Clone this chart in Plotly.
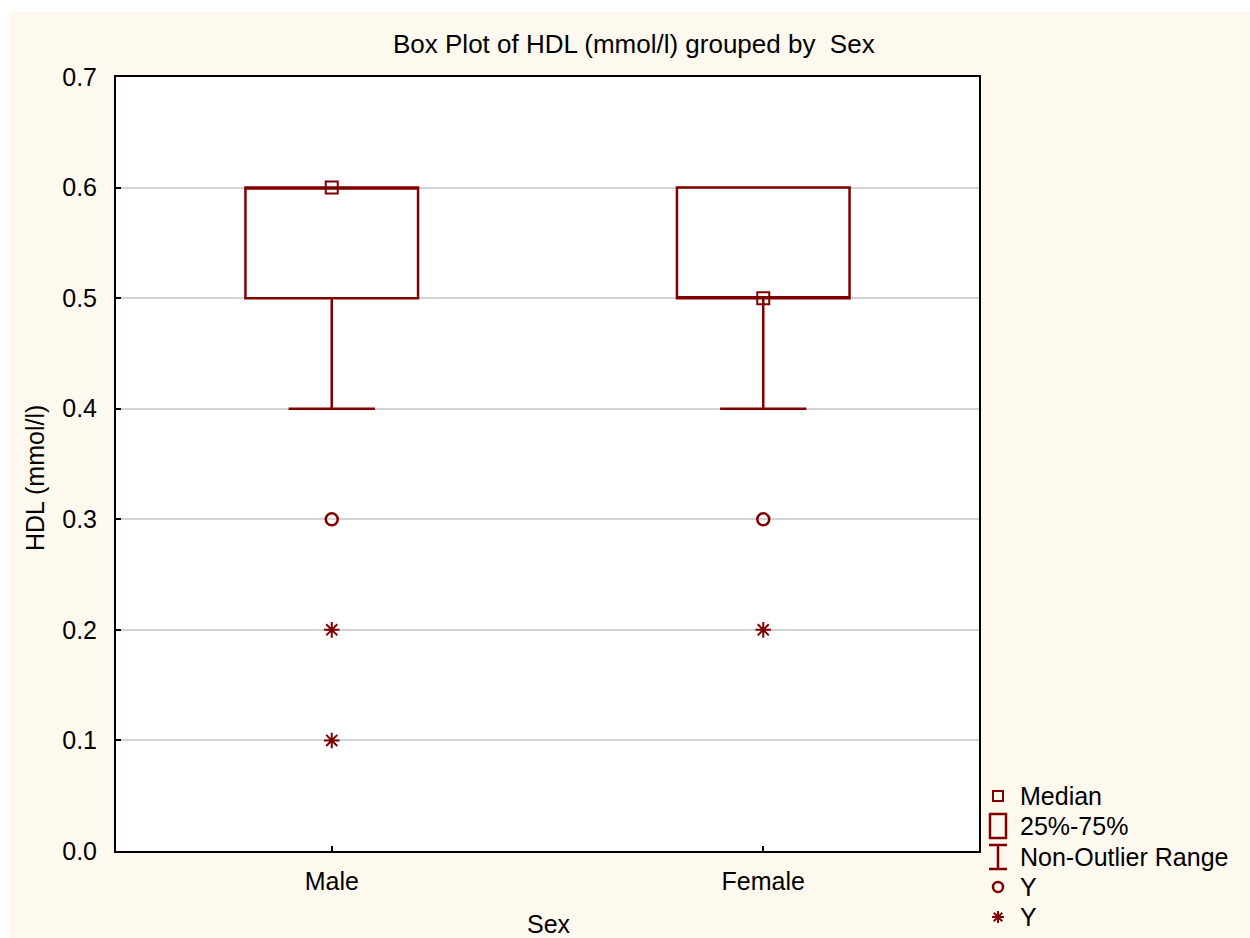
import plotly.graph_objects as go

# Summary statistics of HDL (mmol/l) by sex
categories = ["Male", "Female"]
medians = [0.6, 0.5]
q1 = [0.5, 0.5]
q3 = [0.6, 0.6]
whisker_low = [0.4, 0.4]
whisker_high = [0.6, 0.6]

# Outliers (circles) and extremes (asterisks)
outlier_x = ["Male", "Female"]
outlier_y = [0.3, 0.3]
extreme_x = ["Male", "Male", "Female"]
extreme_y = [0.2, 0.1, 0.2]

y_ticks = [0.0, 0.1, 0.2, 0.3, 0.4, 0.5, 0.6, 0.7]
legend_labels = ["Median", "25%-75%", "Non-Outlier Range", "Y", "Y"]

MAROON = "#800000"
CREAM = "#FEF9EE"
FONT = "Liberation Sans, Arial, sans-serif"
FS = 25

W, H = 1250, 938
ML, MR, MT, MB = 116, 271, 77, 87
PW, PH = W - ML - MR, H - MT - MB


def px_x(px):
    return (px - ML) / PW


def px_y(py):
    return (H - MB - py) / PH


fig = go.Figure()

fig.add_trace(go.Box(
    x=categories, q1=q1, median=medians, q3=q3,
    lowerfence=whisker_low, upperfence=whisker_high,
    width=0.4, whiskerwidth=0.5, boxpoints=False,
    line=dict(color=MAROON, width=2.5), fillcolor="rgba(0,0,0,0)",
    showlegend=False,
))

fig.add_trace(go.Scatter(
    x=categories, y=medians, mode="markers", showlegend=False,
    marker=dict(symbol="square-open", size=12, color=MAROON,
                line=dict(color=MAROON, width=2)),
))

fig.add_trace(go.Scatter(
    x=outlier_x, y=outlier_y, mode="markers", showlegend=False,
    marker=dict(symbol="circle-open", size=12, color=MAROON,
                line=dict(color=MAROON, width=2.5)),
))

fig.add_trace(go.Scatter(
    x=extreme_x, y=extreme_y, mode="markers", showlegend=False,
    marker=dict(symbol="asterisk-open", size=13, color=MAROON,
                line=dict(color=MAROON, width=2)),
))

shapes = []
# white strips along the top and left edges of the page
shapes.append(dict(type="rect", xref="paper", yref="paper", layer="above",
                   x0=px_x(0), x1=px_x(W), y0=px_y(0), y1=px_y(12),
                   fillcolor="white", line=dict(width=0)))
shapes.append(dict(type="rect", xref="paper", yref="paper", layer="above",
                   x0=px_x(0), x1=px_x(10), y0=px_y(0), y1=px_y(H),
                   fillcolor="white", line=dict(width=0)))

# custom legend symbols
rows = [796, 826, 857, 887, 917]
cx = 998
ln = dict(color=MAROON, width=2.5)
# median
shapes.append(dict(type="rect", xref="paper", yref="paper",
                   x0=px_x(cx - 5), x1=px_x(cx + 5),
                   y0=px_y(rows[0] + 5), y1=px_y(rows[0] - 5), line=dict(color=MAROON, width=2)))
# 25%-75%
shapes.append(dict(type="rect", xref="paper", yref="paper",
                   x0=px_x(cx - 8), x1=px_x(cx + 8),
                   y0=px_y(rows[1] + 12), y1=px_y(rows[1] - 12), line=ln))
# non-outlier range
r = rows[2]
shapes.append(dict(type="path", xref="paper", yref="paper", line=ln,
                   path=(f"M{px_x(cx - 9)},{px_y(r - 12)} L{px_x(cx + 9)},{px_y(r - 12)} "
                         f"M{px_x(cx)},{px_y(r - 12)} L{px_x(cx)},{px_y(r + 12)} "
                         f"M{px_x(cx - 9)},{px_y(r + 12)} L{px_x(cx + 9)},{px_y(r + 12)}")))
# outlier circle
shapes.append(dict(type="circle", xref="paper", yref="paper", line=ln,
                   x0=px_x(cx - 5), x1=px_x(cx + 5),
                   y0=px_y(rows[3] + 5), y1=px_y(rows[3] - 5)))
# extreme asterisk
r = rows[4]
a = 6
d = 4.3
shapes.append(dict(type="path", xref="paper", yref="paper", line=dict(color=MAROON, width=2),
                   path=(f"M{px_x(cx)},{px_y(r - a)} L{px_x(cx)},{px_y(r + a)} "
                         f"M{px_x(cx - a)},{px_y(r)} L{px_x(cx + a)},{px_y(r)} "
                         f"M{px_x(cx - d)},{px_y(r - d)} L{px_x(cx + d)},{px_y(r + d)} "
                         f"M{px_x(cx - d)},{px_y(r + d)} L{px_x(cx + d)},{px_y(r - d)}")))

annotations = []
for lbl, ry in zip(legend_labels, rows):
    annotations.append(dict(text=lbl, xref="paper", yref="paper",
                            x=px_x(1018), y=px_y(ry), xanchor="left", yanchor="middle",
                            showarrow=False, font=dict(size=FS, color="black", family=FONT)))

annotations.append(dict(text="Box Plot of HDL (mmol/l) grouped by  Sex", xref="paper", yref="paper",
                        x=px_x(634), y=px_y(44), xanchor="center", yanchor="middle",
                        showarrow=False, font=dict(size=26, color="black", family=FONT)))
annotations.append(dict(text="Sex", xref="paper", yref="paper",
                        x=px_x(549), y=px_y(924), xanchor="center", yanchor="middle",
                        showarrow=False, font=dict(size=FS, color="black", family=FONT)))
annotations.append(dict(text="HDL (mmol/l)", xref="paper", yref="paper", textangle=-90,
                        x=px_x(35), y=px_y(478), xanchor="center", yanchor="middle",
                        showarrow=False, font=dict(size=FS, color="black", family=FONT)))

fig.update_layout(
    width=W, height=H,
    margin=dict(l=ML, r=MR, t=MT, b=MB, pad=0),
    paper_bgcolor=CREAM, plot_bgcolor="white",
    font=dict(family=FONT, size=FS, color="black"),
    shapes=shapes, annotations=annotations,
    showlegend=False,
)

fig.update_xaxes(
    type="category", categoryorder="array", categoryarray=categories,
    range=[-0.5, 1.5],
    showline=True, linecolor="black", linewidth=2, mirror=True,
    ticks="inside", ticklen=5, tickwidth=1.5, tickcolor="black",
    showgrid=False, zeroline=False, ticklabelstandoff=7,
    tickfont=dict(size=FS, color="black", family=FONT),
)
fig.update_yaxes(
    range=[0, 0.7], tickvals=y_ticks, ticktext=[f"{v:.1f}" for v in y_ticks],
    showline=True, linecolor="black", linewidth=2, mirror=True,
    ticks="inside", ticklen=5, tickwidth=1.5, tickcolor="black",
    showgrid=True, gridcolor="#D3D3D3", gridwidth=2, zeroline=False,
    ticklabelstandoff=12,
    tickfont=dict(size=FS, color="black", family=FONT),
)

fig.write_html("out.html")
